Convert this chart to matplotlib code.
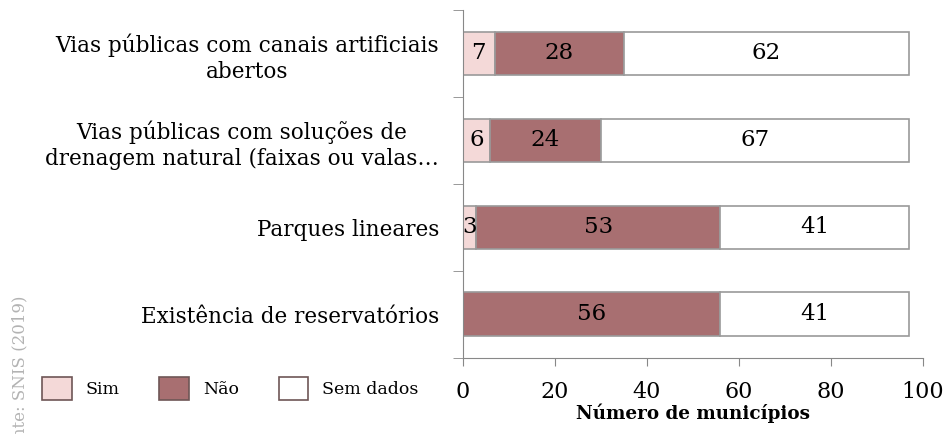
import matplotlib
matplotlib.use('Agg')
import matplotlib.pyplot as plt
import numpy as np

# number of municipalities per drainage measure
categorias = ['Vias públicas com canais artificiais\nabertos',
              'Vias públicas com soluções de\ndrenagem natural (faixas ou valas…',
              'Parques lineares',
              'Existência de reservatórios']
sim = [7, 6, 3, 0]
nao = [28, 24, 53, 56]
sem_dados = [62, 67, 41, 41]

series = [('Sim', sim, '#f4d9d8'), ('Não', nao, '#a86f71'), ('Sem dados', sem_dados, '#ffffff')]

plt.rcParams['font.family'] = ['DejaVu Serif']

fig = plt.figure(figsize=(9.46, 4.34), dpi=100)
ax = fig.add_axes([0.489, 0.176, 0.4865, 0.801])

y = np.arange(len(categorias))[::-1]
left = np.zeros(len(categorias))
for nome, vals, cor in series:
    vals = np.array(vals)
    bars = ax.barh(y, vals, left=left, height=0.5, color=cor, edgecolor='#9a9a9a',
                   linewidth=1.2, label=nome)
    for b, v in zip(bars, vals):
        if v > 0:
            ax.text(b.get_x() + b.get_width() / 2, b.get_y() + b.get_height() / 2, str(v),
                    ha='center', va='center', fontsize=16.5)
    left += vals

ax.set_xlim(0, 100)
ax.set_ylim(-0.5, 3.5)
ax.set_xticks(range(0, 101, 20))
ax.set_yticks(y)
ax.set_yticklabels(categorias, multialignment='center', linespacing=1.25)
ax.set_yticks(np.arange(-0.5, 4, 1), minor=True)
ax.tick_params(axis='y', which='major', length=0, pad=17, labelsize=15.5)
ax.tick_params(axis='y', which='minor', length=7, color='#888888')
ax.tick_params(axis='x', length=6, color='#888888', labelsize=16, pad=11)
for s in ['top', 'right']:
    ax.spines[s].set_visible(False)
for s in ['left', 'bottom']:
    ax.spines[s].set_color('#888888')

ax.set_xlabel('Número de municípios', fontsize=13.2, fontweight='bold', labelpad=0)

leg = fig.legend(loc='lower left', bbox_to_anchor=(0.028, 0.043), ncol=3, frameon=False,
                 fontsize=12.5, handlelength=1.7, handleheight=1.65, columnspacing=2.3,
                 handletextpad=0.8)
for h in leg.legend_handles:
    h.set_edgecolor('#6e5656')

# source note along the left edge, running off the bottom of the figure
fig.text(0.021, 0.32, 'Fonte: SNIS (2019)', rotation=90, rotation_mode='anchor',
         ha='right', va='center', color='#b3b3b3', fontsize=12, family='DejaVu Serif',
         fontweight='light')

fig.savefig('out.png', dpi=100)
